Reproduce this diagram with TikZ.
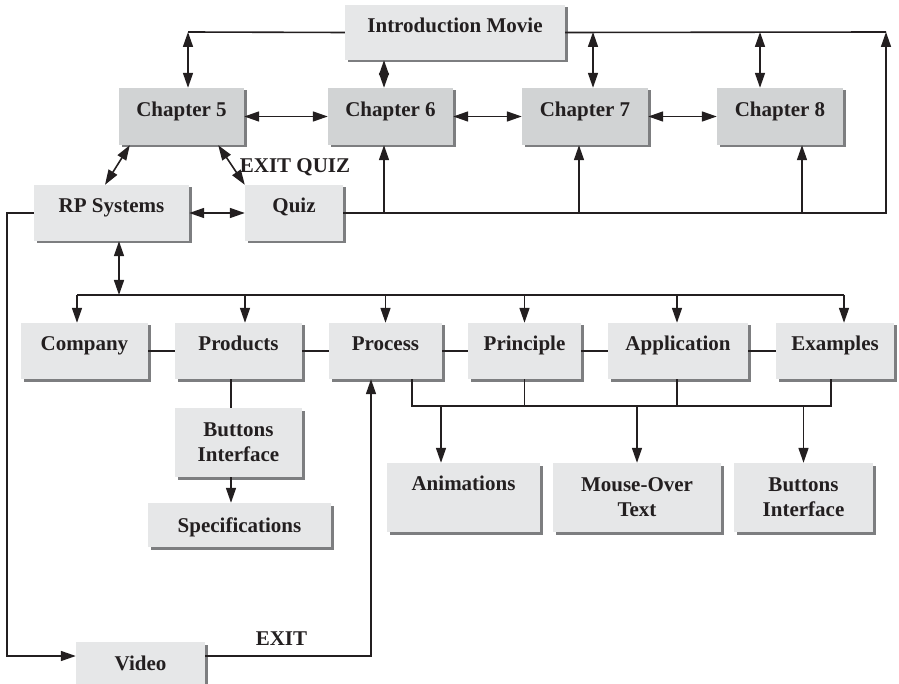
\documentclass[tikz,border=0pt]{standalone}
\usepackage{fontspec}
\setmainfont{Liberation Serif}
\usetikzlibrary{arrows.meta,shadows}
\definecolor{boxlight}{HTML}{E6E7E8}
\definecolor{boxdark}{HTML}{D1D3D4}
\definecolor{ink}{HTML}{231F20}
\definecolor{shade}{HTML}{7D7E80}

\begin{document}
\begin{tikzpicture}[x=1pt,y=-1pt,
  box/.style={rectangle, fill=boxlight, inner sep=0pt, align=center,
    font=\bfseries\fontsize{21}{25}\selectfont, text=ink,
    general shadow={fill=shade, shadow xshift=2.5pt, shadow yshift=-2.5pt}},
  chap/.style={box, fill=boxdark},
  dim/.style 2 args={minimum width=#1pt, minimum height=#2pt},
  lift/.style={text height=15pt, text depth=#1},
  link/.style={draw=ink, line width=1.6pt},
  one/.style={link, -{Triangle[length=15pt,width=10pt]}},
  dbl/.style={link, {Triangle[length=15pt,width=10pt]}-{Triangle[length=15pt,width=10pt]}},
  tag/.style={font=\bfseries\fontsize{21}{25}\selectfont, text=ink, inner sep=0pt, anchor=base}]

\useasboundingbox (0,0) rectangle (899,684);

% top level
\node[box, dim={220}{55}, lift=15pt] (intro) at (455,32.5) {Introduction Movie};
\node[chap, dim={125}{57}, lift=15pt] (ch5) at (181.5,116.5) {Chapter 5};
\node[chap, dim={125}{57}, lift=15pt] (ch6) at (390.5,116.5) {Chapter 6};
\node[chap, dim={126}{57}, lift=15pt] (ch7) at (585,116.5) {Chapter 7};
\node[chap, dim={126}{57}, lift=15pt] (ch8) at (780,116.5) {Chapter 8};

\node[box, dim={155}{56}, lift=15pt] (rp) at (111.5,213) {RP Systems};
\node[box, dim={98}{56}, lift=15pt] (quiz) at (294,213) {Quiz};

% topic row
\node[box, dim={127}{56}, lift=15pt] (company) at (84.5,351) {Company};
\node[box, dim={127}{56}, lift=15pt] (products) at (238.5,351) {Products};
\node[box, dim={113}{56}, lift=15pt] (process) at (385.5,351) {Process};
\node[box, dim={113}{56}, lift=15pt] (principle) at (524.5,351) {Principle};
\node[box, dim={140}{56}, lift=15pt] (application) at (678,351) {Application};
\node[box, dim={118}{56}, lift=15pt] (examples) at (835,351) {Examples};

% detail boxes
\node[box, dim={127}{69}] (buttonsA) at (238.5,442.5) {Buttons\\Interface};
\node[box, dim={183}{44}, lift=1pt] (specs) at (239.5,525) {Specifications};
\node[box, dim={153}{69}, lift=30pt] (anim) at (463.5,497.5) {Animations};
\node[box, dim={168}{69}] (mouse) at (637,497.5) {Mouse-Over\\Text};
\node[box, dim={139}{69}] (buttonsB) at (803.5,497.5) {Buttons\\Interface};
\node[box, dim={129}{42}, lift=1pt] (video) at (140.5,663) {Video};

% links from the introduction movie
\coordinate (tl) at (188,32);
\coordinate (tr) at (886,32);
\draw[link] (intro.west) -- (tl);
\draw[dbl] (tl) -- (tl |- ch5.north);
\draw[dbl] ([xshift=-6.5pt]ch6.north |- intro.south) -- ([xshift=-6.5pt]ch6.north);
\draw[link] (intro.east) -- (tr);
\draw[dbl] ([xshift=8pt]ch7.north |- tr) -- ([xshift=8pt]ch7.north);
\draw[dbl] ([xshift=-20pt]ch8.north |- tr) -- ([xshift=-20pt]ch8.north);

% chapter chain
\draw[dbl] (ch5) -- (ch6);
\draw[dbl] (ch6) -- (ch7);
\draw[dbl] (ch7) -- (ch8);

% quiz exits
\draw[one] (quiz.east) -| (tr);
\draw[one] ([xshift=-6.5pt]ch6.south |- quiz.east) -- ([xshift=-6.5pt]ch6.south);
\draw[one] ([xshift=-6pt]ch7.south |- quiz.east) -- ([xshift=-6pt]ch7.south);
\draw[one] ([xshift=22pt]ch8.south |- quiz.east) -- ([xshift=22pt]ch8.south);

\draw[dbl] ([xshift=11pt]ch5.south west) -- ([xshift=-6.5pt]rp.north);
\draw[dbl] ([xshift=-26pt]ch5.south east) -- (quiz.north west);
\draw[dbl] (rp) -- (quiz);
\node[tag] (exitquiz) at (295,173) {EXIT QUIZ};

% RP systems to the topic row
\coordinate (bus) at (0,295);
\draw[dbl] ([xshift=7.5pt]rp.south) -- ([xshift=7.5pt]rp.south |- bus);
\draw[link] ([xshift=-7.5pt]company.north |- bus) -- ([xshift=9pt]examples.north |- bus);
\foreach \n/\s in {company/-7.5, products/6.5, process/0, principle/0, application/-1, examples/9}
  \draw[one] ([xshift=\s pt]\n.north |- bus) -- ([xshift=\s pt]\n.north);
\foreach \a/\b in {company/products, products/process, process/principle,
                   principle/application, application/examples}
  \draw[link] (\a) -- (\b);

% products branch
\draw[link] ([xshift=-7.5pt]products.south) -- ([xshift=-7.5pt]buttonsA.north);
\draw[one] ([xshift=-7.5pt]buttonsA.south) -- ([xshift=-8.5pt]specs.north);

% shared media
\coordinate (bus2) at (0,406);
\draw[link] ([xshift=26.5pt]process.south) |- ([xshift=-4pt]examples.south |- bus2)
  -- ([xshift=-4pt]examples.south);
\draw[link] (principle.south) -- (principle.south |- bus2);
\draw[link] ([xshift=-1pt]application.south) -- ([xshift=-1pt]application.south |- bus2);
\draw[one] ([xshift=-22.5pt]anim.north |- bus2) -- ([xshift=-22.5pt]anim.north);
\draw[one] (mouse.north |- bus2) -- (mouse.north);
\draw[one] (buttonsB.north |- bus2) -- (buttonsB.north);

% video loop
\coordinate (lc) at (7,656);
\draw[one] (rp.west) -| (lc) -- ([yshift=7pt]video.west);
\draw[one] ([yshift=7pt]video.east) -| ([xshift=-14.5pt]process.south);
\node[tag] (exit) at (281.5,645) {EXIT};
\end{tikzpicture}
\end{document}
